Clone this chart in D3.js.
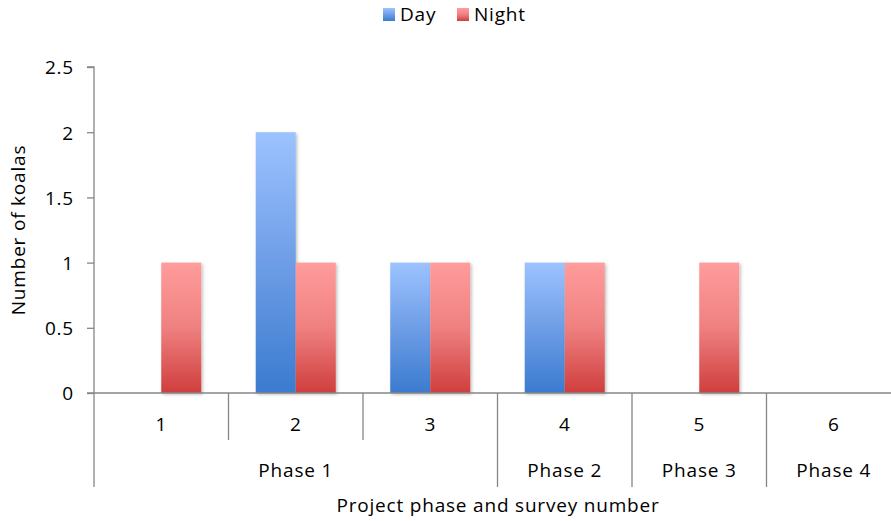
<!DOCTYPE html>
<html><head><meta charset="utf-8">
<script src="https://cdn.jsdelivr.net/npm/d3@7"></script>
<style>body{margin:0;background:#fff}svg{display:block}text{font-family:"Open Sans","Noto Sans",sans-serif;fill:#000;font-size:19px;letter-spacing:0.8px}</style>
</head><body>
<svg id="c" width="891" height="521"></svg>
<script>
const categories = ["1","2","3","4","5","6"];
const seriesNames = ["Day","Night"];
const dayValues = [0,2,1,1,0,0];
const nightValues = [1,1,1,1,1,0];
const phases = ["Phase 1","Phase 2","Phase 3","Phase 4"];
const phaseSpans = [3,1,1,1];
const yTicks = [0,0.5,1,1.5,2,2.5];
const yTickLabels = ["0","0.5","1","1.5","2","2.5"];

(function(){
const svg = d3.select("#c");
const pL = 94, pR = 901, pT = 67, pB = 393;
const x = d3.scaleBand().domain(categories).range([pL,pR]).padding(0);
const y = d3.scaleLinear().domain([0,2.5]).range([pB,pT]);
const groupW = x.bandwidth()*0.595;
const xs = d3.scaleBand().domain(seriesNames).range([-groupW/2, groupW/2]).padding(0);

const defs = svg.append("defs");
function grad(id, c1, c2, c3){
  const g = defs.append("linearGradient").attr("id",id).attr("x1",0).attr("y1",0).attr("x2",0).attr("y2",1);
  g.append("stop").attr("offset","0%").attr("stop-color",c1);
  g.append("stop").attr("offset","50%").attr("stop-color",c2);
  g.append("stop").attr("offset","100%").attr("stop-color",c3);
}
grad("gDay","#9cc3ff","#6e9de6","#3b7bcf");
grad("gNight","#ff9c9c","#ef8080","#cf3e3d");
const f = defs.append("filter").attr("id","sh").attr("x","-20%").attr("y","-20%").attr("width","140%").attr("height","140%");
f.append("feDropShadow").attr("dx",1.5).attr("dy",1.5).attr("stdDeviation",1.5).attr("flood-color","#000").attr("flood-opacity",0.25);

// y axis
const yAxis = d3.axisLeft(y).tickValues(yTicks).tickFormat((d,i)=>yTickLabels[i]).tickSize(7).tickPadding(13);
const ya = svg.append("g").attr("transform",`translate(${pL},0)`).call(yAxis);
ya.attr("font-family",null).attr("font-size",null);
ya.select(".domain").attr("stroke","#868686").attr("stroke-width",1.3).attr("d",`M-7,${pT}H0V${pB}`);
ya.selectAll(".tick line").attr("stroke","#868686").attr("stroke-width",1.3);
ya.selectAll(".tick text").attr("fill","#000").attr("dy","0.36em");

// bars
const data = categories.map((c,i)=>({c, vals:[{s:"Day",v:dayValues[i]},{s:"Night",v:nightValues[i]}]}));
const g = svg.append("g");
data.forEach(d=>{
  const cx = x(d.c)+x.bandwidth()/2;
  d.vals.filter(v=>v.v>0).forEach(v=>{
    g.append("rect").attr("x",cx+xs(v.s)).attr("width",xs.bandwidth())
      .attr("y",y(v.v)).attr("height",y(0)-y(v.v))
      .attr("fill",v.s==="Day"?"url(#gDay)":"url(#gNight)").attr("filter","url(#sh)");
  });
});

// category axis
const ax = svg.append("g").attr("stroke","#868686").attr("stroke-width",1.3);
ax.append("line").attr("x1",pL-7).attr("x2",pR).attr("y1",pB).attr("y2",pB);
let idx = 0;
const phaseBounds = [0];
phaseSpans.forEach(s=>{idx+=s; phaseBounds.push(idx);});
categories.forEach((c,i)=>{
  const xx = x(c);
  const long = phaseBounds.includes(i);
  ax.append("line").attr("x1",xx).attr("x2",xx).attr("y1",pB).attr("y2",long?487:440);
});
ax.append("line").attr("x1",pR).attr("x2",pR).attr("y1",pB).attr("y2",487);

svg.append("g").selectAll("text").data(categories).join("text")
  .attr("x",d=>x(d)+x.bandwidth()/2).attr("y",431).attr("text-anchor","middle")
  .text(d=>d);
svg.append("g").selectAll("text").data(phases).join("text")
  .attr("x",(d,i)=>{const a=x(categories[phaseBounds[i]]); const b=x(categories[phaseBounds[i+1]-1])+x.bandwidth(); return (a+b)/2;})
  .attr("y",477).attr("text-anchor","middle").text(d=>d);

// titles
svg.append("text").attr("x",498).attr("y",512).attr("text-anchor","middle").text("Project phase and survey number");
svg.append("text").attr("transform","translate(25,230) rotate(-90)").attr("text-anchor","middle").text("Number of koalas");

// legend
const leg = [{n:"Day",f:"url(#gDay)",x:383},{n:"Night",f:"url(#gNight)",x:457}];
const lg = svg.append("g");
leg.forEach(l=>{
  lg.append("rect").attr("x",l.x).attr("y",8).attr("width",12).attr("height",13).attr("fill",l.f);
  lg.append("text").attr("x",l.x+17).attr("y",21).text(l.n);
});
})();
</script>
</body></html>
